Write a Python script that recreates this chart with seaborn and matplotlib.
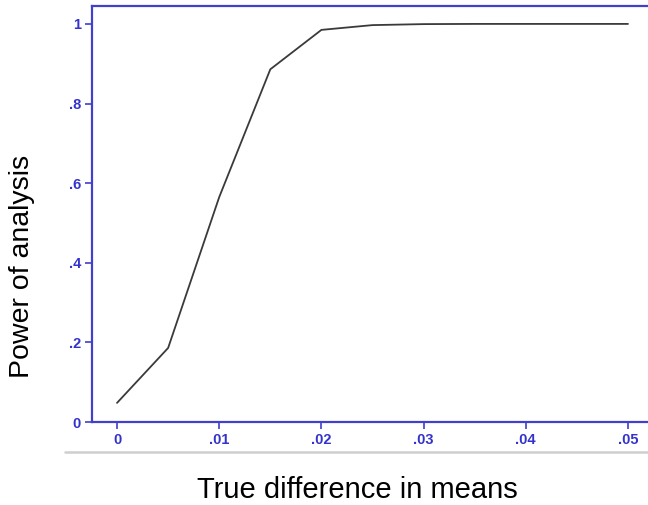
import matplotlib
matplotlib.use("Agg")
import matplotlib.pyplot as plt
import seaborn as sns
import pandas as pd
from matplotlib.lines import Line2D

diff = [0.0, 0.005, 0.01, 0.015, 0.02, 0.025, 0.03, 0.035, 0.04, 0.045, 0.05]
power = [0.048, 0.186, 0.565, 0.886, 0.985, 0.997, 0.9995, 1.0, 1.0, 1.0, 1.0]
xticks = [0, 0.01, 0.02, 0.03, 0.04, 0.05]
xticklabels = ["0", ".01", ".02", ".03", ".04", ".05"]
yticks = [0, 0.2, 0.4, 0.6, 0.8, 1.0]
yticklabels = ["0", ".2", ".4", ".6", ".8", "1"]

sns.set_style("white")
plt.rcParams['font.family'] = ['Liberation Sans', 'DejaVu Sans']

df = pd.DataFrame({"diff": diff, "power": power})
blue = "#4040cc"

fig = plt.figure(figsize=(6.48, 5.05), dpi=100)
ax = fig.add_axes([92/648, 1-422/505, 1-92/648, (422-6)/505])
sns.lineplot(data=df, x="diff", y="power", ax=ax, color="#3a3a3a", linewidth=1.3)
ax.set_xlim(-0.00245, 0.05196)
ax.set_ylim(0, 1.045)
ax.set_xticks(xticks)
ax.set_xticklabels(xticklabels)
ax.set_yticks(yticks)
ax.set_yticklabels(yticklabels)
ax.tick_params(axis="both", direction="out", length=5, width=1.2, color=blue,
               labelcolor="#3333cc", labelsize=10.5, pad=3, left=True, bottom=True)
for lab in ax.get_xticklabels() + ax.get_yticklabels():
    lab.set_fontweight("bold")
for s in ["left", "top", "bottom"]:
    ax.spines[s].set_color(blue)
    ax.spines[s].set_linewidth(1.6)
ax.spines["right"].set_visible(False)
ax.set_xlabel("")
ax.set_ylabel("")
fig.text(357/648, 1-490/505, "True difference in means", ha="center", va="center",
         fontsize=21, color="black")
fig.text(22/648, 1-266/505, "Power of analysis", ha="center", va="center", rotation=90,
         fontsize=20.5, color="black")
fig.add_artist(Line2D([65/648, 1.0], [1-452/505, 1-452/505], color="#cfcfcf", linewidth=1.8,
                      transform=fig.transFigure))
fig.savefig("out.png", dpi=100)
